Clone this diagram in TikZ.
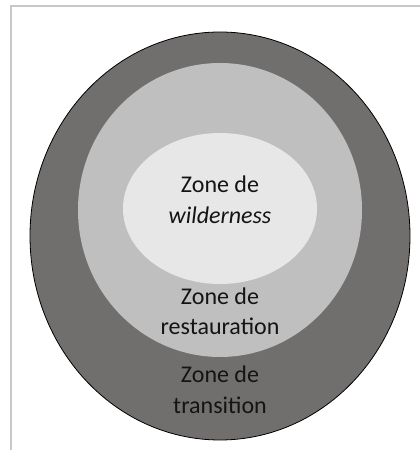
\documentclass[tikz,border=0pt]{standalone}
\usepackage{fontspec}
\setmainfont{Carlito}
\definecolor{outerz}{RGB}{113,110,110}
\definecolor{midz}{RGB}{191,191,191}
\definecolor{innerz}{RGB}{231,231,231}
\definecolor{framec}{RGB}{200,200,200}
\definecolor{txt}{RGB}{20,20,20}
\begin{document}
\begin{tikzpicture}[x=1pt,y=1pt,
  zonelabel/.style={align=center,text=txt,font=\fontsize{24}{30.5}\selectfont,inner sep=0pt}]
\useasboundingbox (0,0) rectangle (420,450);
\fill[white] (0,0) rectangle (420,450);
\draw[framec,line width=1.5pt] (11,0) -- (11,444) -- (420,444);
\draw[black,fill=outerz,line width=0.8pt] (220,214) ellipse [x radius=190,y radius=204];
\fill[midz] (220,240) ellipse [x radius=142,y radius=147];
\fill[innerz] (220,241.5) ellipse [x radius=97,y radius=75.5];
\node[zonelabel] (wild) at (220,250) {Zone de\\\textit{wilderness}};
\node[zonelabel] (rest) at (220,138.5) {Zone de\\restauration};
\node[zonelabel] (trans) at (220,60) {Zone de\\transition};
\end{tikzpicture}
\end{document}
